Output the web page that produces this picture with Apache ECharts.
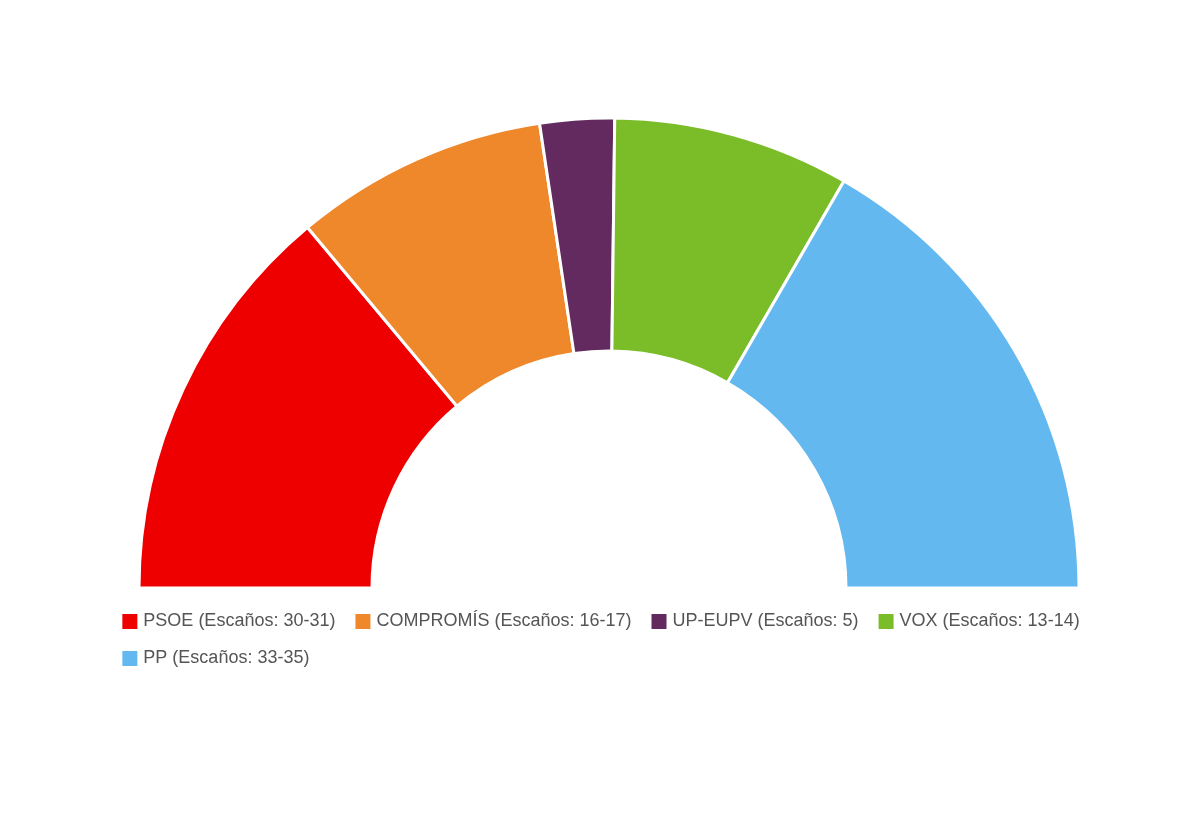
<!DOCTYPE html>
<html><head><meta charset="utf-8">
<script src="https://cdn.jsdelivr.net/npm/echarts@6/dist/echarts.min.js"></script>
<style>html,body{margin:0;background:#fff}#c{width:1200px;height:840px}</style>
</head><body><div id="c"></div>
<script>
var names = ['PSOE (Escaños: 30-31)', 'COMPROMÍS (Escaños: 16-17)', 'UP-EUPV (Escaños: 5)', 'VOX (Escaños: 13-14)', 'PP (Escaños: 33-35)'];
var values = [50.1, 31.4, 9.2, 29.3, 60.0];
var colors = ['#ee0000', '#ef882b', '#622a5f', '#7bbc29', '#63b8f0'];

var chart = echarts.init(document.getElementById('c'));
var total = 0;
var data = [];
for (var i = 0; i < values.length; i++) {
    total += values[i];
    data.push({ name: names[i], value: values[i], itemStyle: { color: colors[i] } });
}
// hidden lower half
data.push({ name: '_hidden', value: total, itemStyle: { color: 'transparent', borderWidth: 0 }, emphasis: { disabled: true } });

chart.setOption({
    animation: false,
    legend: {
        data: names,
        top: 607,
        left: 'center',
        width: 1140,
        icon: 'rect',
        itemWidth: 17,
        itemHeight: 17,
        itemGap: 18,
        textStyle: { fontFamily: 'Liberation Sans', fontSize: 18, color: '#555' }
    },
    series: [{
        type: 'pie',
        center: [609, 588],
        radius: [237, 470],
        startAngle: 180,
        clockwise: true,
        label: { show: false },
        labelLine: { show: false },
        itemStyle: { borderColor: '#fff', borderWidth: 3 },
        data: data
    }]
});
</script></body></html>
